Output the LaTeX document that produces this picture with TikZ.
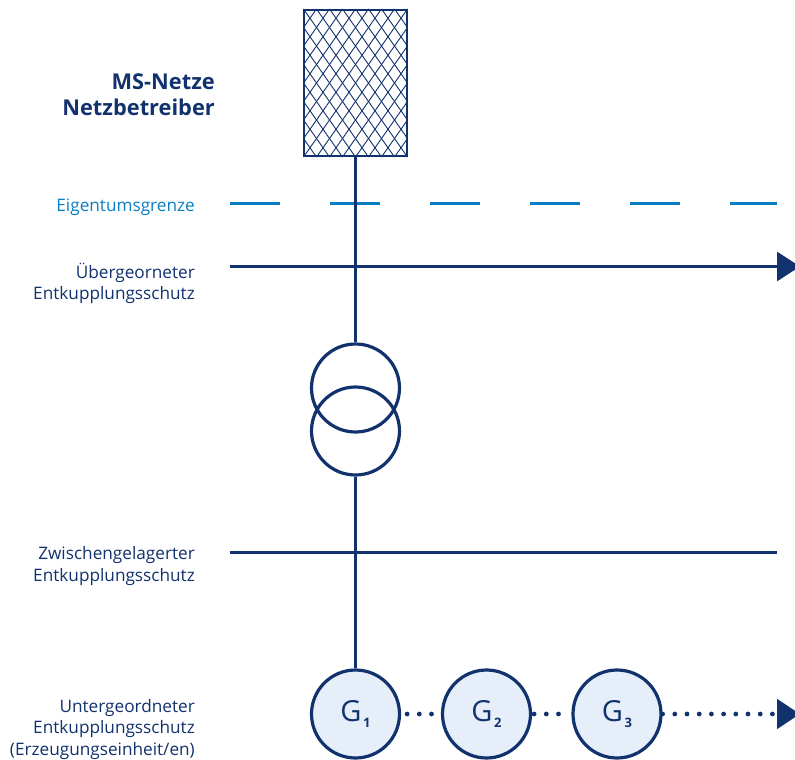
\documentclass[tikz,border=0pt]{standalone}
\usepackage{fontspec}
\setmainfont{Open Sans}
\usetikzlibrary{arrows.meta}
\definecolor{netzblue}{HTML}{12326E}
\definecolor{grenzblue}{HTML}{0A7EC4}
\definecolor{genfill}{HTML}{E6EFF9}
\tikzstyle{bus}=[draw=netzblue,line width=3pt]
\tikzstyle{trafo}=[shape=circle,draw=netzblue,line width=3.2pt,minimum size=88pt,inner sep=0pt]
\tikzstyle{gen}=[shape=circle,draw=netzblue,fill=genfill,line width=3.2pt,minimum size=88pt,inner sep=0pt,text=netzblue,font=\fontsize{29}{32}\selectfont]
\tikzstyle{lab}=[anchor=east,align=right,inner sep=0pt,text=netzblue,font=\fontsize{17.2}{21.5}\selectfont]
\tikzstyle{dots}=[draw=netzblue,line width=4.8pt,line cap=round,dash pattern=on 0pt off 12.2pt]
\tikzstyle{endtip}=[-{Triangle[length=23pt,width=29pt,fill=netzblue]}]
\def\gsub#1{G\raisebox{-6pt}{\hspace{1.5pt}\fontsize{13}{13}\selectfont\bfseries #1}}

\begin{document}
\begin{tikzpicture}[x=1pt,y=-1pt]
\useasboundingbox (0,0) rectangle (795,760);
% grid connection
\begin{scope}
\clip (303.5,9) rectangle (407.5,157);
\foreach \i in {-12,...,20} {
    \draw[netzblue,line width=0.9pt] (303.5+13*\i,9) -- ++(104,148);
    \draw[netzblue,line width=0.9pt] (407.5-13*\i,9) -- ++(-104,148);
}
\end{scope}
\node[draw=netzblue,line width=2.5pt,minimum width=103pt,minimum height=146pt,inner sep=0pt] (netz) at (355.5,83) {};
\node[anchor=east,align=right,inner sep=0pt,text=netzblue,font=\fontsize{21.8}{26}\selectfont\bfseries] (titel) at (215,95) {MS-Netze\\Netzbetreiber};

% labels
\node[lab,text=grenzblue] (lab_e) at (195,207.5) {Eigentumsgrenze};
\node[lab] (lab_u) at (195,283.5) {Übergeorneter\\Entkupplungsschutz};
\node[lab] (lab_z) at (195,566) {Zwischengelagerter\\Entkupplungsschutz};
\node[lab] (lab_g) at (195,729.5) {Untergeordneter\\Entkupplungsschutz\\(Erzeugungseinheit/en)};

% horizontal lines
\coordinate (e_a) at (230,203.5);
\coordinate (e_b) at (777,203.5);
\coordinate (u_a) at (230,266.5);
\coordinate (u_b) at (800,266.5);
\coordinate (z_a) at (230,552);
\coordinate (z_b) at (777,552);
\coordinate (g_e) at (800,714);
\draw[draw=grenzblue,line width=3pt,dash pattern=on 50pt off 50pt] (e_a) -- (e_b);
\draw[bus,endtip] (u_a) -- (u_b);
\draw[bus] (z_a) -- (z_b);

% transformer
\node[trafo] (t1) at (355.5,388) {};
\node[trafo] (t2) at (355.5,431) {};

% generators
\node[gen] (g1) at (355.5,714) {\gsub{1}};
\node[gen] (g2) at (486.5,714) {\gsub{2}};
\node[gen] (g3) at (617,714) {\gsub{3}};

\draw[bus] (netz) -- (t1);
\draw[bus] (t2) -- (g1);
\draw[dots,shorten >=2pt,shorten <=6pt] (g1) -- (g2);
\draw[dots,shorten >=2pt,shorten <=2pt] (g2) -- (g3);
\draw[dots,endtip] (g3) -- (g_e);
\end{tikzpicture}
\end{document}
